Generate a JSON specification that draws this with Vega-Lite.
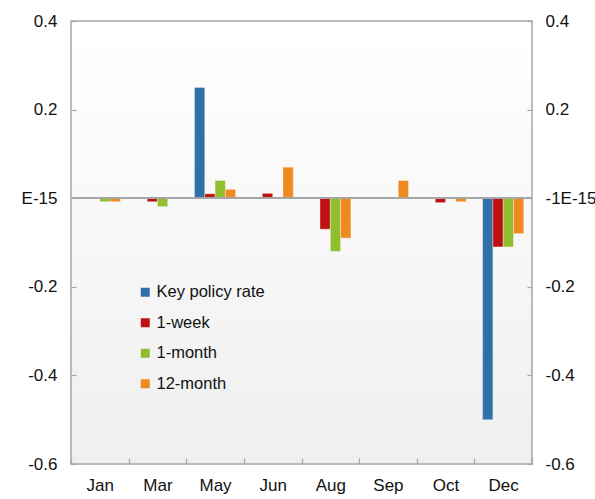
{
  "$schema": "https://vega.github.io/schema/vega-lite/v6.json",
  "autosize": {"type": "none"},
  "padding": {"left": 71, "top": 21, "right": 63, "bottom": 35},
  "width": 461,
  "height": 443,
  "background": "#ffffff",
  "config": {
    "font": "Liberation Sans",
    "view": {
      "stroke": "#a6a6a6",
      "strokeWidth": 1.5,
      "fill": {"gradient": "linear", "x1": 0, "y1": 0, "x2": 0, "y2": 1,
        "stops": [{"offset": 0, "color": "#ffffff"}, {"offset": 1, "color": "#efefef"}]}
    },
    "axis": {
      "labelFont": "Liberation Sans",
      "labelFontSize": 17,
      "labelColor": "#111111",
      "domain": false,
      "grid": false,
      "tickColor": "#a6a6a6",
      "tickWidth": 1.2
    }
  },
  "data": {
    "values": [
      {"month": "Jan", "series": "1-month", "value": -0.008},
      {"month": "Jan", "series": "12-month", "value": -0.008},
      {"month": "Mar", "series": "1-week", "value": -0.008},
      {"month": "Mar", "series": "1-month", "value": -0.019},
      {"month": "May", "series": "Key policy rate", "value": 0.25},
      {"month": "May", "series": "1-week", "value": 0.01},
      {"month": "May", "series": "1-month", "value": 0.04},
      {"month": "May", "series": "12-month", "value": 0.02},
      {"month": "Jun", "series": "1-week", "value": 0.011},
      {"month": "Jun", "series": "12-month", "value": 0.07},
      {"month": "Aug", "series": "1-week", "value": -0.07},
      {"month": "Aug", "series": "1-month", "value": -0.12},
      {"month": "Aug", "series": "12-month", "value": -0.09},
      {"month": "Sep", "series": "12-month", "value": 0.04},
      {"month": "Oct", "series": "1-week", "value": -0.01},
      {"month": "Oct", "series": "12-month", "value": -0.008},
      {"month": "Dec", "series": "Key policy rate", "value": -0.5},
      {"month": "Dec", "series": "1-week", "value": -0.11},
      {"month": "Dec", "series": "1-month", "value": -0.11},
      {"month": "Dec", "series": "12-month", "value": -0.08}
    ]
  },
  "layer": [
    {
      "mark": {"type": "bar", "stroke": "#ffffff", "strokeOpacity": 0.35, "strokeWidth": 1},
      "encoding": {
        "x": {
          "field": "month", "type": "nominal",
          "scale": {"domain": ["Jan", "Mar", "May", "Jun", "Aug", "Sep", "Oct", "Dec"], "paddingInner": 0, "paddingOuter": 0},
          "axis": {"title": null, "labelAngle": 0, "tickBand": "extent", "tickSize": -6, "labelPadding": 19}
        },
        "xOffset": {
          "field": "series", "type": "nominal",
          "scale": {"domain": ["Key policy rate", "1-week", "1-month", "12-month"], "paddingInner": 0, "paddingOuter": 0.8}
        },
        "y": {
          "field": "value", "type": "quantitative",
          "scale": {"domain": [-0.6, 0.4], "nice": false, "zero": false},
          "axis": {
            "title": null, "orient": "left", "values": [-0.6, -0.4, -0.2, 0, 0.2, 0.4],
            "tickSize": -5, "labelPadding": 19,
            "labelExpr": "datum.value == 0 ? 'E-15' : replace(format(datum.value, '.1f'), '\u2212', '-')"
          }
        },
        "color": {
          "field": "series", "type": "nominal",
          "scale": {"domain": ["Key policy rate", "1-week", "1-month", "12-month"], "range": ["#3070a8", "#be1111", "#90be2e", "#ee8a20"]},
          "legend": {
            "title": null, "orient": "none", "legendX": 66, "legendY": 263,
            "symbolType": "square", "symbolSize": 81, "symbolStrokeWidth": 0,
            "labelFont": "Liberation Sans", "labelFontSize": 16.5, "labelColor": "#111111",
            "labelOffset": 3, "rowPadding": 13.5, "padding": 0
          }
        }
      }
    },
    {
      "mark": {"type": "rule", "color": "#a6a6a6", "strokeWidth": 1.5},
      "encoding": {
        "y": {
          "datum": 0, "type": "quantitative",
          "axis": {
            "title": null, "orient": "right", "values": [-0.6, -0.4, -0.2, 0, 0.2, 0.4],
            "tickSize": -5, "labelPadding": 18,
            "labelExpr": "datum.value == 0 ? '-1E-15' : replace(format(datum.value, '.1f'), '\u2212', '-')"
          }
        }
      }
    }
  ],
  "resolve": {"axis": {"y": "independent"}}
}
